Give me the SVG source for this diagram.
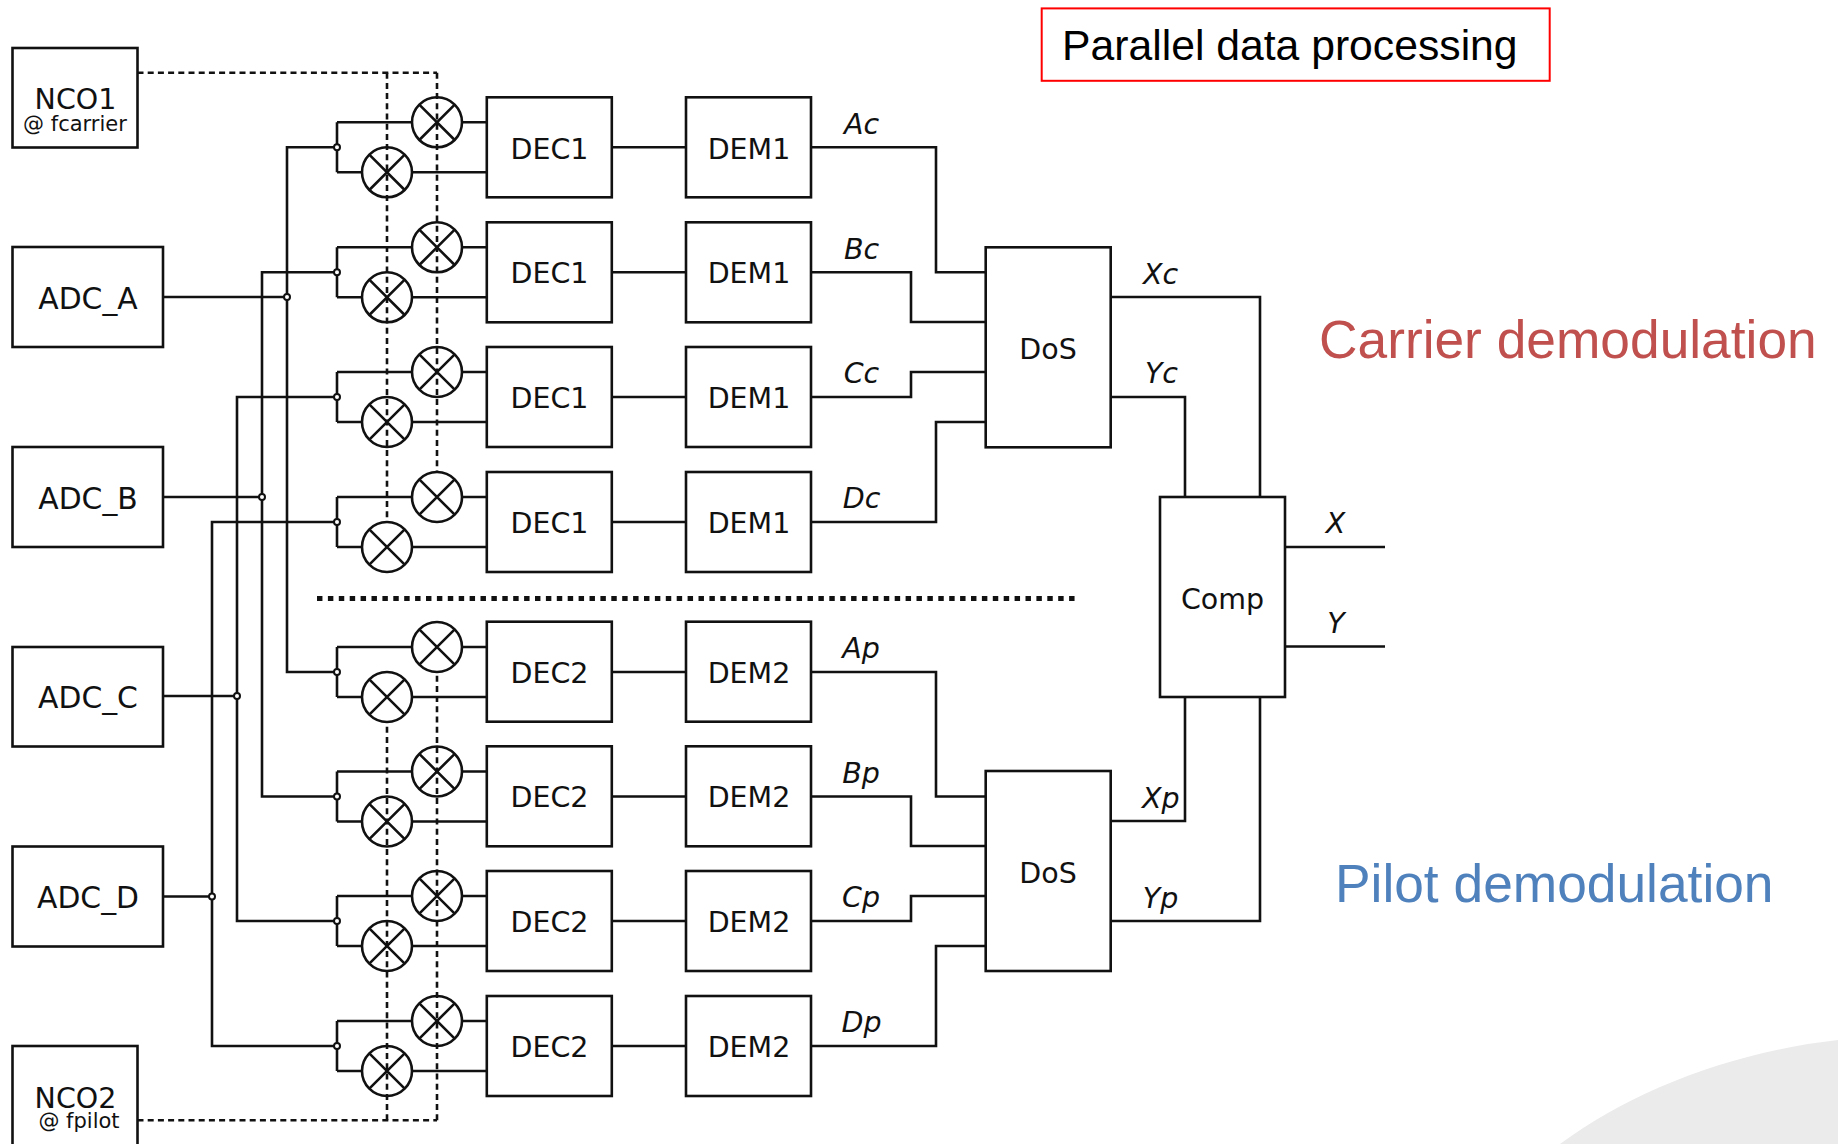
<svg xmlns="http://www.w3.org/2000/svg" width="1838" height="1144" viewBox="0 0 1838 1144">
<style>
.b{fill:#fff;stroke:#111;stroke-width:2.6}
.w{fill:none;stroke:#111;stroke-width:2.6;stroke-linejoin:miter}
.d{fill:none;stroke:#111;stroke-width:2.6;stroke-dasharray:6 4.2}
.j{fill:#fff;stroke:#111;stroke-width:2}
text{font-family:"DejaVu Sans",Verdana,sans-serif;font-size:28.5px;fill:#111;text-anchor:middle}
.s{font-size:21px}
.n{font-size:29.800px}
.i{font-style:italic}
.a{font-family:"Liberation Sans",Arial,sans-serif}
</style>
<defs>
<g id="mix"><circle r="25" fill="#fff" stroke="#111" stroke-width="2.6"/><path d="M-17.7-17.7L17.7 17.7M-17.7 17.7L17.7-17.7" fill="none" stroke="#111" stroke-width="2.6"/></g>
<circle id="jn" r="3" class="j"/>
</defs>
<rect width="1838" height="1144" fill="#fff"/>
<path id="bg" d="M1560 1144C1630 1092 1730 1052 1838 1040V1144Z" fill="#ebebeb"/>
<g id="connectors">
<path class="w" d="M163 297H287M163 497H262M163 696H237M163 896.500H212"/>
<path class="w" d="M337 147.300H287V672H337M337 272.300H262V796.500H337M337 397H237V921H337M337 522H212V1046H337"/>
<path class="w" d="M412 172.300H487M337 122.300V172.300M337 122.300H412M337 172.300H362M462 122.300H487"/>
<path class="w" d="M337 247.300V297.300M337 247.300H412M337 297.300H362M412 297.300H487M462 247.300H487"/>
<path class="w" d="M337 372V422M337 372H412M337 422H362M412 422H487M462 372H487"/>
<path class="w" d="M337 497V547M337 497H412M337 547H362M412 547H487M462 497H487"/>
<path class="w" d="M337 647V697M337 647H412M337 697H362M412 697H487M462 647H487"/>
<path class="w" d="M337 771.500V821.500M337 771.500H412M337 821.500H362M412 821.500H487M462 771.500H487"/>
<path class="w" d="M337 896V946M337 896H412M337 946H362M412 946H487M462 896H487"/>
<path class="w" d="M337 1021V1071M337 1021H412M337 1071H362M412 1071H487M462 1021H487"/>
<path class="w" d="M611 147.300H686M611 272.300H686M611 397H686M611 522H686M611 672H686M611 796.500H686M611 921H686M611 1046H686"/>
<path class="w" d="M811 147.300H936V272.300H986M811 272.300H911V322H986M811 397H911V372H986M811 522H936V422H986"/>
<path class="w" d="M811 672H936V796.500H986M811 796.500H911V846H986M811 921H911V896H986M811 1046H936V946H986"/>
<path class="w" d="M1110.700 297H1260V497M1110.700 397H1185V497M1110.700 821H1185V697M1110.700 921H1260V697"/>
<path class="w" d="M1285 547H1385M1285 646.500H1385"/>
<path class="d" d="M137.500 72.700H437M137.500 1120.300H437"/>
<path d="M317 598.500H1075" fill="none" stroke="#111" stroke-width="5" stroke-dasharray="5.450 5.450"/>
<use href="#jn" x="337" y="147.300"/><use href="#jn" x="337" y="272.300"/><use href="#jn" x="337" y="397"/><use href="#jn" x="337" y="522"/>
<use href="#jn" x="337" y="672"/><use href="#jn" x="337" y="796.500"/><use href="#jn" x="337" y="921"/><use href="#jn" x="337" y="1046"/>
<use href="#jn" x="287" y="297"/><use href="#jn" x="262" y="497"/><use href="#jn" x="237" y="696"/><use href="#jn" x="212" y="896.500"/>
</g>
<g id="mixers">
<use href="#mix" x="437" y="122.300"/><use href="#mix" x="387" y="172.300"/>
<use href="#mix" x="437" y="247.300"/><use href="#mix" x="387" y="297.300"/>
<use href="#mix" x="437" y="372"/><use href="#mix" x="387" y="422"/>
<use href="#mix" x="437" y="497"/><use href="#mix" x="387" y="547"/>
<use href="#mix" x="437" y="647"/><use href="#mix" x="387" y="697"/>
<use href="#mix" x="437" y="771.500"/><use href="#mix" x="387" y="821.500"/>
<use href="#mix" x="437" y="896"/><use href="#mix" x="387" y="946"/>
<use href="#mix" x="437" y="1021"/><use href="#mix" x="387" y="1071"/>
</g>
<path id="lo-lines" class="d" d="M437 72.700V472M387 72.700V522M437 1120.300V672M387 1120.300V722"/>
<g id="nco1"><rect class="b" x="12.500" y="48" width="125" height="99.500"/><text x="75.500" y="109">NCO1</text><text class="s" x="75" y="131">@ fcarrier</text></g>
<g id="adc_a"><rect class="b" x="12.500" y="247" width="150.500" height="100"/><text class="n" x="88" y="309">ADC_A</text></g>
<g id="adc_b"><rect class="b" x="12.500" y="447" width="150.500" height="100"/><text class="n" x="88" y="509">ADC_B</text></g>
<g id="adc_c"><rect class="b" x="12.500" y="647" width="150.500" height="99.500"/><text class="n" x="88" y="708">ADC_C</text></g>
<g id="adc_d"><rect class="b" x="12.500" y="846.500" width="150.500" height="100"/><text class="n" x="88" y="908">ADC_D</text></g>
<g id="nco2"><rect class="b" x="12.500" y="1046" width="125" height="100"/><text x="75.500" y="1108">NCO2</text><text class="s" x="79" y="1128">@ fpilot</text></g>
<g id="dec1a"><rect class="b" x="486.800" y="97.300" width="125" height="100"/><text x="549.500" y="158.500">DEC1</text></g>
<g id="dec1b"><rect class="b" x="486.800" y="222.300" width="125" height="100"/><text x="549.500" y="283.300">DEC1</text></g>
<g id="dec1c"><rect class="b" x="486.800" y="347" width="125" height="100"/><text x="549.500" y="408.300">DEC1</text></g>
<g id="dec1d"><rect class="b" x="486.800" y="472" width="125" height="100"/><text x="549.500" y="533.300">DEC1</text></g>
<g id="dec2a"><rect class="b" x="486.800" y="621.700" width="125" height="100"/><text x="549.500" y="682.700">DEC2</text></g>
<g id="dec2b"><rect class="b" x="486.800" y="746.300" width="125" height="100"/><text x="549.500" y="807.300">DEC2</text></g>
<g id="dec2c"><rect class="b" x="486.800" y="871" width="125" height="100"/><text x="549.500" y="931.700">DEC2</text></g>
<g id="dec2d"><rect class="b" x="486.800" y="996" width="125" height="100"/><text x="549.500" y="1056.500">DEC2</text></g>
<g id="dem1a"><rect class="b" x="686" y="97.300" width="125" height="100"/><text x="749" y="158.500">DEM1</text></g>
<g id="dem1b"><rect class="b" x="686" y="222.300" width="125" height="100"/><text x="749" y="283.300">DEM1</text></g>
<g id="dem1c"><rect class="b" x="686" y="347" width="125" height="100"/><text x="749" y="408.300">DEM1</text></g>
<g id="dem1d"><rect class="b" x="686" y="472" width="125" height="100"/><text x="749" y="533.300">DEM1</text></g>
<g id="dem2a"><rect class="b" x="686" y="621.700" width="125" height="100"/><text x="749" y="682.700">DEM2</text></g>
<g id="dem2b"><rect class="b" x="686" y="746.300" width="125" height="100"/><text x="749" y="807.300">DEM2</text></g>
<g id="dem2c"><rect class="b" x="686" y="871" width="125" height="100"/><text x="749" y="931.700">DEM2</text></g>
<g id="dem2d"><rect class="b" x="686" y="996" width="125" height="100"/><text x="749" y="1056.500">DEM2</text></g>
<g id="dos1"><rect class="b" x="985.700" y="247.300" width="125" height="200"/><text x="1048" y="359">DoS</text></g>
<g id="dos2"><rect class="b" x="985.700" y="771" width="125" height="200"/><text x="1048" y="883">DoS</text></g>
<g id="comp"><rect class="b" x="1160" y="497" width="125" height="200"/><text x="1222.500" y="609">Comp</text></g>
<g id="labels">
<text class="i" x="861.500" y="133.500">Ac</text><text class="i" x="861.500" y="258.500">Bc</text><text class="i" x="861.500" y="383">Cc</text><text class="i" x="861.500" y="508">Dc</text>
<text class="i" x="861" y="658">Ap</text><text class="i" x="861" y="782.500">Bp</text><text class="i" x="861" y="907">Cp</text><text class="i" x="861.500" y="1032">Dp</text>
<text class="i" x="1160.700" y="283.500">Xc</text><text class="i" x="1161.500" y="383">Yc</text><text class="i" x="1160.700" y="807.500">Xp</text><text class="i" x="1160.500" y="907.500">Yp</text>
<text class="i" x="1335.500" y="532.500">X</text><text class="i" x="1336" y="632.500">Y</text>
</g>
<g id="title"><rect x="1041.700" y="8.400" width="508" height="72.400" fill="none" stroke="#ff0000" stroke-width="2"/><text class="a" x="1062" y="60" style="font-size:42.700px;text-anchor:start;fill:#000">Parallel data processing</text></g>
<text class="a" x="1319" y="358" style="font-size:53.300px;text-anchor:start;fill:#c0504d">Carrier demodulation</text>
<text class="a" x="1335" y="902" style="font-size:53.300px;text-anchor:start;fill:#4f81bd">Pilot demodulation</text>
</svg>
